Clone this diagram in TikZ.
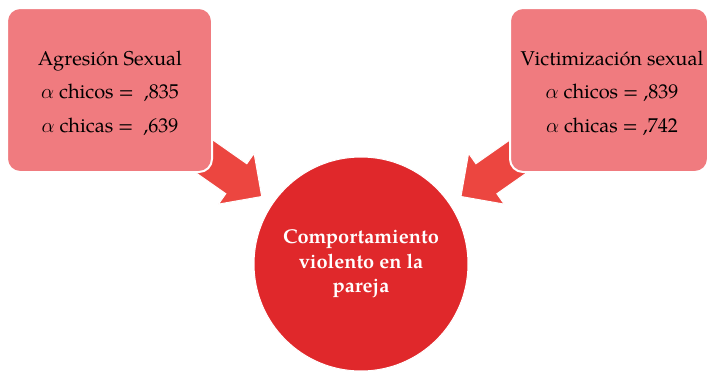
\documentclass[tikz,border=0pt]{standalone}
\usepackage{fontspec}
\setmainfont{TeX Gyre Pagella}
\definecolor{boxpink}{HTML}{F07B7F}
\definecolor{arrowred}{HTML}{EC4640}
\definecolor{circred}{HTML}{E0282B}
\tikzset{
  srcbox/.style={draw=white, line width=2pt, fill=boxpink, rounded corners=13pt},
  boxtext/.style={align=center, text=black, font=\fontsize{20}{33.5}\selectfont},
  bigarrow/.style={draw=white, line width=1pt, fill=arrowred, line join=miter},
  target/.style={circle, fill=circred, draw=white, line width=1pt, minimum size=214pt, inner sep=0pt,
    align=center, text=white, font=\fontsize{20}{24.5}\selectfont\bfseries},
}
\begin{document}
\begin{tikzpicture}[x=1pt,y=-1pt]
\useasboundingbox (0,0) rectangle (707,370);
\fill[white] (0,0) rectangle (707,370);
% arrows (drawn first, boxes on top)
\begin{scope}[shift={(261.7,196.5)}, rotate=-35]
  \path[bigarrow] (0,0) -- (-31,-31) -- (-31,-18.3) -- (-80,-18.3) -- (-80,18.3) -- (-31,18.3) -- (-31,31) -- cycle;
\end{scope}
\begin{scope}[shift={(461,196.5)}, rotate=-145]
  \path[bigarrow] (0,0) -- (-31,-31) -- (-31,-18.3) -- (-80,-18.3) -- (-80,18.3) -- (-31,18.3) -- (-31,31) -- cycle;
\end{scope}
\path[srcbox] (7,8) rectangle (212,172);
\path[srcbox] (510,8) rectangle (708,172);
\node[boxtext] (agr) at (110,93) {Agresión Sexual\\$\alpha$ chicos =\ \ ,835\\$\alpha$ chicas =\ \ ,639};
\node[boxtext] (vic) at (612,93) {Victimización sexual\\$\alpha$ chicos = ,839\\$\alpha$ chicas = ,742};
\node[target] (cv) at (361,264) {Comportamiento\\violento en la\\pareja};
\end{tikzpicture}
\end{document}
